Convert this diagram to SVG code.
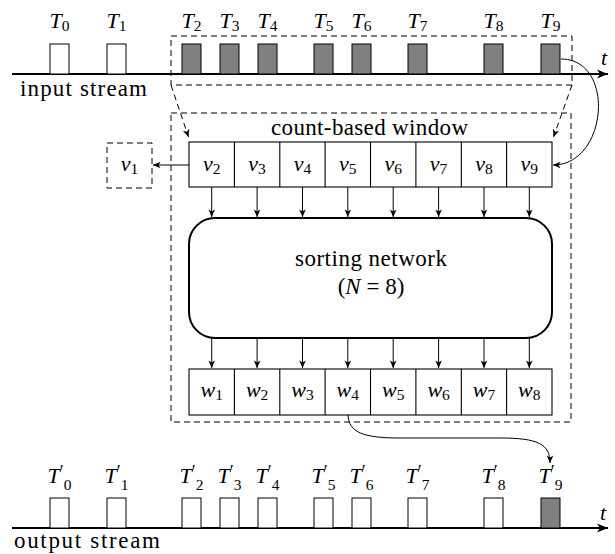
<svg xmlns="http://www.w3.org/2000/svg" width="615" height="554" viewBox="0 0 615 554">
<style>
text{font-family:"Liberation Serif","DejaVu Serif","Times New Roman",serif;fill:#000}
.m{font-size:22px;font-style:italic}
.s{font-size:15.5px;font-style:normal}
.pr{font-size:18px;font-style:normal}
.p{font-size:23px}
.pulse{fill:#fff;stroke:#000;stroke-width:1}
.on{fill:#808080;stroke:#000;stroke-width:1}
.axis{fill:none;stroke:#000;stroke-width:1.8}
.cell{fill:#fff;stroke:#000;stroke-width:1.1}
.dash{fill:none;stroke:#000;stroke-width:1;stroke-dasharray:6 4}
.arr{fill:none;stroke:#000;stroke-width:1;marker-end:url(#ah)}
.darr{fill:none;stroke:#000;stroke-width:1;stroke-dasharray:6 4;marker-end:url(#ah)}
</style>
<defs>
<marker id="ah" markerUnits="userSpaceOnUse" viewBox="-9 -5 10 10" markerWidth="10" markerHeight="10" refX="0" refY="0" orient="auto">
<path d="M0,0 L-7.5,-3.3 L-5.5,0 L-7.5,3.3 Z" fill="#000"/>
</marker>
<marker id="big" markerUnits="userSpaceOnUse" viewBox="-12 -6 13 12" markerWidth="13" markerHeight="12" refX="0" refY="0" orient="auto">
<path d="M0,0 L-11,-4.6 L-8,0 L-11,4.6 Z" fill="#000"/>
</marker>
</defs>

<g id="input-stream">
<line class="axis" x1="12" y1="74" x2="608" y2="74" marker-end="url(#big)"/>
<text class="m" x="604" y="65" text-anchor="middle">t</text>
<text class="p" x="20" y="96" textLength="127" lengthAdjust="spacing">input stream</text>
<rect class="pulse" x="50" y="44" width="19" height="30"/>
<rect class="pulse" x="107" y="44" width="19" height="30"/>
<rect class="on" x="182" y="44" width="19" height="30"/>
<rect class="on" x="220" y="44" width="19" height="30"/>
<rect class="on" x="258" y="44" width="19" height="30"/>
<rect class="on" x="314" y="44" width="19" height="30"/>
<rect class="on" x="352" y="44" width="19" height="30"/>
<rect class="on" x="408" y="44" width="19" height="30"/>
<rect class="on" x="484" y="44" width="19" height="30"/>
<rect class="on" x="541" y="44" width="19" height="30"/>
<text class="m" x="59.5" y="28" text-anchor="middle">T<tspan class="s" dy="3">0</tspan></text>
<text class="m" x="116.5" y="28" text-anchor="middle">T<tspan class="s" dy="3">1</tspan></text>
<text class="m" x="191.5" y="28" text-anchor="middle">T<tspan class="s" dy="3">2</tspan></text>
<text class="m" x="229.5" y="28" text-anchor="middle">T<tspan class="s" dy="3">3</tspan></text>
<text class="m" x="267.5" y="28" text-anchor="middle">T<tspan class="s" dy="3">4</tspan></text>
<text class="m" x="323.5" y="28" text-anchor="middle">T<tspan class="s" dy="3">5</tspan></text>
<text class="m" x="361.5" y="28" text-anchor="middle">T<tspan class="s" dy="3">6</tspan></text>
<text class="m" x="417.5" y="28" text-anchor="middle">T<tspan class="s" dy="3">7</tspan></text>
<text class="m" x="493.5" y="28" text-anchor="middle">T<tspan class="s" dy="3">8</tspan></text>
<text class="m" x="550.5" y="28" text-anchor="middle">T<tspan class="s" dy="3">9</tspan></text>
</g>

<g id="input-window">
<rect class="dash" x="171" y="36" width="401" height="49"/>
</g>

<g id="window">
<rect class="dash" x="171" y="113" width="400" height="309"/>
<text class="p" x="271" y="135" textLength="197" lengthAdjust="spacing">count-based window</text>
</g>

<g id="v1">
<rect class="dash" x="107" y="143" width="45" height="45"/>
<text class="m" x="129.5" y="171" text-anchor="middle">v<tspan class="s" dy="3">1</tspan></text>
</g>

<g id="v-cells">
<rect class="cell" x="189" y="142" width="363" height="45"/>
<path d="M234.4,142V187M279.8,142V187M325.1,142V187M370.5,142V187M415.9,142V187M461.3,142V187M506.6,142V187" stroke="#000" stroke-width="1.1" fill="none"/>
<text class="m" x="211.7" y="171" text-anchor="middle">v<tspan class="s" dy="3">2</tspan></text>
<text class="m" x="257.1" y="171" text-anchor="middle">v<tspan class="s" dy="3">3</tspan></text>
<text class="m" x="302.5" y="171" text-anchor="middle">v<tspan class="s" dy="3">4</tspan></text>
<text class="m" x="347.8" y="171" text-anchor="middle">v<tspan class="s" dy="3">5</tspan></text>
<text class="m" x="393.2" y="171" text-anchor="middle">v<tspan class="s" dy="3">6</tspan></text>
<text class="m" x="438.6" y="171" text-anchor="middle">v<tspan class="s" dy="3">7</tspan></text>
<text class="m" x="484.0" y="171" text-anchor="middle">v<tspan class="s" dy="3">8</tspan></text>
<text class="m" x="529.3" y="171" text-anchor="middle">v<tspan class="s" dy="3">9</tspan></text>
</g>

<g id="sorting-network">
<rect x="189" y="218" width="363" height="120" rx="26" ry="26" fill="#fff" stroke="#000" stroke-width="2"/>
<text class="p" x="295" y="266" textLength="152" lengthAdjust="spacing">sorting network</text>
<text class="p" x="371" y="294" text-anchor="middle">(<tspan font-style="italic">N</tspan> = 8)</text>
</g>

<g id="w-cells">
<rect class="cell" x="189" y="369" width="363" height="46"/>
<path d="M234.4,369V415M279.8,369V415M325.1,369V415M370.5,369V415M415.9,369V415M461.3,369V415M506.6,369V415" stroke="#000" stroke-width="1.1" fill="none"/>
<text class="m" x="211.7" y="397" text-anchor="middle">w<tspan class="s" dy="3">1</tspan></text>
<text class="m" x="257.1" y="397" text-anchor="middle">w<tspan class="s" dy="3">2</tspan></text>
<text class="m" x="302.5" y="397" text-anchor="middle">w<tspan class="s" dy="3">3</tspan></text>
<text class="m" x="347.8" y="397" text-anchor="middle">w<tspan class="s" dy="3">4</tspan></text>
<text class="m" x="393.2" y="397" text-anchor="middle">w<tspan class="s" dy="3">5</tspan></text>
<text class="m" x="438.6" y="397" text-anchor="middle">w<tspan class="s" dy="3">6</tspan></text>
<text class="m" x="484.0" y="397" text-anchor="middle">w<tspan class="s" dy="3">7</tspan></text>
<text class="m" x="529.3" y="397" text-anchor="middle">w<tspan class="s" dy="3">8</tspan></text>
</g>

<g id="output-stream">
<line class="axis" x1="12" y1="528" x2="608" y2="528" marker-end="url(#big)"/>
<text class="m" x="603" y="520" text-anchor="middle">t</text>
<text class="p" x="14" y="548" textLength="146" lengthAdjust="spacing">output stream</text>
<rect class="pulse" x="50" y="498" width="19" height="30"/>
<rect class="pulse" x="107" y="498" width="19" height="30"/>
<rect class="pulse" x="182" y="498" width="19" height="30"/>
<rect class="pulse" x="220" y="498" width="19" height="30"/>
<rect class="pulse" x="258" y="498" width="19" height="30"/>
<rect class="pulse" x="314" y="498" width="19" height="30"/>
<rect class="pulse" x="352" y="498" width="19" height="30"/>
<rect class="pulse" x="408" y="498" width="19" height="30"/>
<rect class="pulse" x="484" y="498" width="19" height="30"/>
<rect class="on" x="541" y="498" width="19" height="30"/>
<text class="m" x="59.5" y="483" text-anchor="middle">T<tspan class="pr" dy="-5">′</tspan><tspan class="s" dy="12">0</tspan></text>
<text class="m" x="116.5" y="483" text-anchor="middle">T<tspan class="pr" dy="-5">′</tspan><tspan class="s" dy="12">1</tspan></text>
<text class="m" x="191.5" y="483" text-anchor="middle">T<tspan class="pr" dy="-5">′</tspan><tspan class="s" dy="12">2</tspan></text>
<text class="m" x="229.5" y="483" text-anchor="middle">T<tspan class="pr" dy="-5">′</tspan><tspan class="s" dy="12">3</tspan></text>
<text class="m" x="267.5" y="483" text-anchor="middle">T<tspan class="pr" dy="-5">′</tspan><tspan class="s" dy="12">4</tspan></text>
<text class="m" x="323.5" y="483" text-anchor="middle">T<tspan class="pr" dy="-5">′</tspan><tspan class="s" dy="12">5</tspan></text>
<text class="m" x="361.5" y="483" text-anchor="middle">T<tspan class="pr" dy="-5">′</tspan><tspan class="s" dy="12">6</tspan></text>
<text class="m" x="417.5" y="483" text-anchor="middle">T<tspan class="pr" dy="-5">′</tspan><tspan class="s" dy="12">7</tspan></text>
<text class="m" x="493.5" y="483" text-anchor="middle">T<tspan class="pr" dy="-5">′</tspan><tspan class="s" dy="12">8</tspan></text>
<text class="m" x="550.5" y="483" text-anchor="middle">T<tspan class="pr" dy="-5">′</tspan><tspan class="s" dy="12">9</tspan></text>
</g>

<g id="connectors">
<path class="darr" d="M171,85 L188.5,137"/>
<path class="darr" d="M572,85 L553.5,137"/>
<path class="arr" d="M561,59 C616,59 608,165 553,165"/>
<path class="arr" d="M189,165 L153,165"/>
<line class="arr" x1="211.7" y1="187" x2="211.7" y2="217"/>
<line class="arr" x1="257.1" y1="187" x2="257.1" y2="217"/>
<line class="arr" x1="302.5" y1="187" x2="302.5" y2="217"/>
<line class="arr" x1="347.8" y1="187" x2="347.8" y2="217"/>
<line class="arr" x1="393.2" y1="187" x2="393.2" y2="217"/>
<line class="arr" x1="438.6" y1="187" x2="438.6" y2="217"/>
<line class="arr" x1="484.0" y1="187" x2="484.0" y2="217"/>
<line class="arr" x1="529.3" y1="187" x2="529.3" y2="217"/>
<line class="arr" x1="211.7" y1="338" x2="211.7" y2="368"/>
<line class="arr" x1="257.1" y1="338" x2="257.1" y2="368"/>
<line class="arr" x1="302.5" y1="338" x2="302.5" y2="368"/>
<line class="arr" x1="347.8" y1="338" x2="347.8" y2="368"/>
<line class="arr" x1="393.2" y1="338" x2="393.2" y2="368"/>
<line class="arr" x1="438.6" y1="338" x2="438.6" y2="368"/>
<line class="arr" x1="484.0" y1="338" x2="484.0" y2="368"/>
<line class="arr" x1="529.3" y1="338" x2="529.3" y2="368"/>
<path class="arr" d="M348,415 C349,432 362,438 400,438 L500,438 C538,438 550,444 550,463"/>
</g>
</svg>
